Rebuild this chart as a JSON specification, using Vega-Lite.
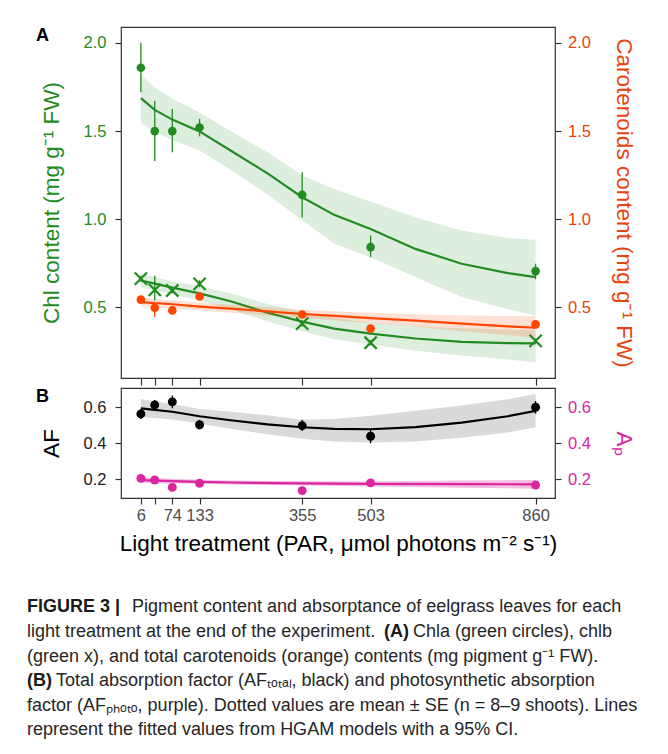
{
  "$schema": "https://vega.github.io/schema/vega-lite/v6.json",
  "background": "white",
  "padding": {"left": 27, "top": 26, "right": 5, "bottom": 5},
  "datasets": {
    "chla_pts": [
      {"x": 6, "y": 1.859, "lo": 1.72, "hi": 2.0},
      {"x": 36, "y": 1.5, "lo": 1.33, "hi": 1.67},
      {"x": 74, "y": 1.5, "lo": 1.38, "hi": 1.625},
      {"x": 133, "y": 1.52, "lo": 1.47, "hi": 1.57},
      {"x": 355, "y": 1.138, "lo": 1.01, "hi": 1.266},
      {"x": 503, "y": 0.842, "lo": 0.785, "hi": 0.908},
      {"x": 860, "y": 0.706, "lo": 0.66, "hi": 0.748}
    ],
    "chla_fit": [
      {"x": 6, "fit": 1.687, "lo": 1.55, "hi": 1.82},
      {"x": 36, "fit": 1.62, "lo": 1.495, "hi": 1.745},
      {"x": 74, "fit": 1.565, "lo": 1.45, "hi": 1.685},
      {"x": 133, "fit": 1.498, "lo": 1.39, "hi": 1.605},
      {"x": 200, "fit": 1.39, "lo": 1.28, "hi": 1.5},
      {"x": 280, "fit": 1.26, "lo": 1.14, "hi": 1.38},
      {"x": 355, "fit": 1.125, "lo": 0.995, "hi": 1.25},
      {"x": 424, "fit": 1.025, "lo": 0.861, "hi": 1.172},
      {"x": 503, "fit": 0.945, "lo": 0.785, "hi": 1.1},
      {"x": 600, "fit": 0.832, "lo": 0.672, "hi": 1.011},
      {"x": 700, "fit": 0.748, "lo": 0.559, "hi": 0.936},
      {"x": 800, "fit": 0.695, "lo": 0.49, "hi": 0.895},
      {"x": 860, "fit": 0.672, "lo": 0.455, "hi": 0.883}
    ],
    "chlb_pts": [
      {"x": 6, "y": 0.663, "lo": 0.645, "hi": 0.68},
      {"x": 36, "y": 0.6, "lo": 0.54, "hi": 0.68},
      {"x": 74, "y": 0.596, "lo": 0.58, "hi": 0.612},
      {"x": 133, "y": 0.634, "lo": 0.615, "hi": 0.655},
      {"x": 355, "y": 0.408, "lo": 0.39, "hi": 0.425},
      {"x": 503, "y": 0.3, "lo": 0.285, "hi": 0.315},
      {"x": 860, "y": 0.31, "lo": 0.295, "hi": 0.325}
    ],
    "chlb_fit": [
      {"x": 6, "fit": 0.653, "lo": 0.615, "hi": 0.695},
      {"x": 36, "fit": 0.635, "lo": 0.598, "hi": 0.672},
      {"x": 74, "fit": 0.612, "lo": 0.575, "hi": 0.648},
      {"x": 133, "fit": 0.58, "lo": 0.54, "hi": 0.62},
      {"x": 200, "fit": 0.535, "lo": 0.49, "hi": 0.58},
      {"x": 280, "fit": 0.47, "lo": 0.42, "hi": 0.52},
      {"x": 355, "fit": 0.42, "lo": 0.365, "hi": 0.475},
      {"x": 424, "fit": 0.38, "lo": 0.32, "hi": 0.44},
      {"x": 503, "fit": 0.352, "lo": 0.29, "hi": 0.415},
      {"x": 600, "fit": 0.324, "lo": 0.255, "hi": 0.393},
      {"x": 700, "fit": 0.305, "lo": 0.228, "hi": 0.382},
      {"x": 800, "fit": 0.298, "lo": 0.205, "hi": 0.375},
      {"x": 860, "fit": 0.296, "lo": 0.19, "hi": 0.37}
    ],
    "carot_pts": [
      {"x": 6, "y": 0.544, "lo": 0.534, "hi": 0.554},
      {"x": 36, "y": 0.498, "lo": 0.446, "hi": 0.53},
      {"x": 74, "y": 0.483, "lo": 0.462, "hi": 0.5},
      {"x": 133, "y": 0.562, "lo": 0.552, "hi": 0.572},
      {"x": 355, "y": 0.46, "lo": 0.44, "hi": 0.48},
      {"x": 503, "y": 0.38, "lo": 0.37, "hi": 0.39},
      {"x": 860, "y": 0.404, "lo": 0.39, "hi": 0.428}
    ],
    "carot_fit": [
      {"x": 6, "fit": 0.53, "lo": 0.505, "hi": 0.555},
      {"x": 74, "fit": 0.518, "lo": 0.495, "hi": 0.541},
      {"x": 133, "fit": 0.505, "lo": 0.483, "hi": 0.527},
      {"x": 200, "fit": 0.493, "lo": 0.47, "hi": 0.516},
      {"x": 280, "fit": 0.478, "lo": 0.455, "hi": 0.502},
      {"x": 355, "fit": 0.463, "lo": 0.44, "hi": 0.487},
      {"x": 424, "fit": 0.452, "lo": 0.427, "hi": 0.478},
      {"x": 503, "fit": 0.44, "lo": 0.412, "hi": 0.47},
      {"x": 600, "fit": 0.425, "lo": 0.39, "hi": 0.462},
      {"x": 700, "fit": 0.408, "lo": 0.365, "hi": 0.455},
      {"x": 800, "fit": 0.393, "lo": 0.343, "hi": 0.452},
      {"x": 860, "fit": 0.385, "lo": 0.33, "hi": 0.452}
    ],
    "af_pts": [
      {"x": 6, "y": 0.563, "lo": 0.535, "hi": 0.59},
      {"x": 36, "y": 0.613, "lo": 0.585, "hi": 0.64},
      {"x": 74, "y": 0.63, "lo": 0.595, "hi": 0.665},
      {"x": 133, "y": 0.503, "lo": 0.478, "hi": 0.53},
      {"x": 355, "y": 0.498, "lo": 0.468, "hi": 0.53},
      {"x": 503, "y": 0.439, "lo": 0.4, "hi": 0.478},
      {"x": 860, "y": 0.6, "lo": 0.565, "hi": 0.635}
    ],
    "af_fit": [
      {"x": 6, "fit": 0.594, "lo": 0.546, "hi": 0.646},
      {"x": 36, "fit": 0.585, "lo": 0.54, "hi": 0.632},
      {"x": 74, "fit": 0.575, "lo": 0.532, "hi": 0.618},
      {"x": 133, "fit": 0.55, "lo": 0.51, "hi": 0.59},
      {"x": 200, "fit": 0.528, "lo": 0.48, "hi": 0.575},
      {"x": 280, "fit": 0.505, "lo": 0.45, "hi": 0.555},
      {"x": 355, "fit": 0.489, "lo": 0.425, "hi": 0.53},
      {"x": 424, "fit": 0.48, "lo": 0.41, "hi": 0.535},
      {"x": 503, "fit": 0.478, "lo": 0.404, "hi": 0.553},
      {"x": 600, "fit": 0.49, "lo": 0.41, "hi": 0.58},
      {"x": 700, "fit": 0.515, "lo": 0.43, "hi": 0.61},
      {"x": 800, "fit": 0.55, "lo": 0.46, "hi": 0.645},
      {"x": 860, "fit": 0.58, "lo": 0.489, "hi": 0.674}
    ],
    "ap_pts": [
      {"x": 6, "y": 0.205, "lo": 0.197, "hi": 0.213},
      {"x": 36, "y": 0.196, "lo": 0.188, "hi": 0.204},
      {"x": 74, "y": 0.155, "lo": 0.147, "hi": 0.163},
      {"x": 133, "y": 0.178, "lo": 0.17, "hi": 0.186},
      {"x": 355, "y": 0.137, "lo": 0.129, "hi": 0.145},
      {"x": 503, "y": 0.18, "lo": 0.172, "hi": 0.188},
      {"x": 860, "y": 0.168, "lo": 0.16, "hi": 0.176}
    ],
    "ap_fit": [
      {"x": 6, "fit": 0.195, "lo": 0.18, "hi": 0.21},
      {"x": 74, "fit": 0.19, "lo": 0.177, "hi": 0.203},
      {"x": 133, "fit": 0.186, "lo": 0.175, "hi": 0.197},
      {"x": 200, "fit": 0.182, "lo": 0.171, "hi": 0.193},
      {"x": 355, "fit": 0.177, "lo": 0.165, "hi": 0.189},
      {"x": 503, "fit": 0.174, "lo": 0.16, "hi": 0.188},
      {"x": 700, "fit": 0.173, "lo": 0.153, "hi": 0.193},
      {"x": 860, "fit": 0.172, "lo": 0.148, "hi": 0.196}
    ],
    "caption": [
      {"line": 1, "part": "bold_start", "text": "FIGURE 3 |"},
      {"line": 1, "part": "after_fig", "text": "Pigment content and absorptance of eelgrass leaves for each"},
      {"line": 2, "part": "start", "text": "light treatment at the end of the experiment."},
      {"line": 2, "part": "bold_A", "text": "(A)"},
      {"line": 2, "part": "after_A", "text": "Chla (green circles), chlb"},
      {"line": 3, "part": "start", "text": "(green x), and total carotenoids (orange) contents (mg pigment g⁻¹ FW)."},
      {"line": 4, "part": "bold_start", "text": "(B)"},
      {"line": 4, "part": "after_B", "text": "Total absorption factor (AFₜₒₜₐₗ, black) and photosynthetic absorption"},
      {"line": 5, "part": "start", "text": "factor (AFₚₕₒₜₒ, purple). Dotted values are mean ± SE (n = 8–9 shoots). Lines"},
      {"line": 6, "part": "start", "text": "represent the fitted values from HGAM models with a 95% CI."}
    ]
  },
  "spacing": 42,
  "vconcat": [
    {
      "spacing": 0,
      "vconcat": [
        {
          "width": 434,
          "height": 351,
          "title": {"text": "A", "anchor": "start", "frame": "bounds", "fontSize": 18, "fontWeight": "bold", "color": "#000000", "dy": 22, "dx": -4},
          "resolve": {"scale": {"y": "independent"}},
          "layer": [
            {
              "layer": [
                {
                  "data": {"name": "chla_fit"},
                  "mark": {"type": "area", "color": "#228B22", "opacity": 0.15},
                  "encoding": {
                    "x": {"field": "x", "type": "quantitative", "scale": {"domain": [-37, 902], "nice": false, "zero": false},
                      "axis": {"values": [6, 36, 74, 133, 355, 503, 860], "labels": false, "title": null, "tickSize": 7}},
                    "y": {"field": "lo", "type": "quantitative", "scale": {"domain": [0.1, 2.09], "nice": false, "zero": false},
                      "axis": {"orient": "left", "values": [0.5, 1, 1.5, 2], "format": ".1f", "title": "Chl content (mg g⁻¹ FW)", "titleColor": "#228B22", "labelColor": "#228B22", "labelPadding": 9, "titlePadding": 20}},
                    "y2": {"field": "hi"}
                  }
                },
                {
                  "data": {"name": "chlb_fit"},
                  "mark": {"type": "area", "color": "#228B22", "opacity": 0.15},
                  "encoding": {
                    "x": {"field": "x", "type": "quantitative"},
                    "y": {"field": "lo", "type": "quantitative"},
                    "y2": {"field": "hi"}
                  }
                },
                {
                  "data": {"name": "chla_fit"},
                  "mark": {"type": "line", "color": "#228B22", "strokeWidth": 2.2},
                  "encoding": {
                    "x": {"field": "x", "type": "quantitative"},
                    "y": {"field": "fit", "type": "quantitative"}
                  }
                },
                {
                  "data": {"name": "chlb_fit"},
                  "mark": {"type": "line", "color": "#228B22", "strokeWidth": 2.2},
                  "encoding": {
                    "x": {"field": "x", "type": "quantitative"},
                    "y": {"field": "fit", "type": "quantitative"}
                  }
                },
                {
                  "data": {"name": "chla_pts"},
                  "mark": {"type": "rule", "color": "#228B22", "strokeWidth": 1.3},
                  "encoding": {
                    "x": {"field": "x", "type": "quantitative"},
                    "y": {"field": "lo", "type": "quantitative"},
                    "y2": {"field": "hi"}
                  }
                },
                {
                  "data": {"name": "chlb_pts"},
                  "mark": {"type": "rule", "color": "#228B22", "strokeWidth": 1.3},
                  "encoding": {
                    "x": {"field": "x", "type": "quantitative"},
                    "y": {"field": "lo", "type": "quantitative"},
                    "y2": {"field": "hi"}
                  }
                },
                {
                  "data": {"name": "chla_pts"},
                  "mark": {"type": "point", "shape": "circle", "filled": true, "color": "#228B22", "size": 75, "opacity": 1},
                  "encoding": {
                    "x": {"field": "x", "type": "quantitative"},
                    "y": {"field": "y", "type": "quantitative"}
                  }
                },
                {
                  "data": {"name": "chlb_pts"},
                  "mark": {"type": "point", "shape": "M-1,-1L1,1M-1,1L1,-1", "filled": false, "color": "#228B22", "size": 150, "strokeWidth": 2.2, "opacity": 1},
                  "encoding": {
                    "x": {"field": "x", "type": "quantitative"},
                    "y": {"field": "y", "type": "quantitative"}
                  }
                }
              ]
            },
            {
              "layer": [
                {
                  "data": {"name": "carot_fit"},
                  "mark": {"type": "area", "color": "#FF4500", "opacity": 0.17},
                  "encoding": {
                    "x": {"field": "x", "type": "quantitative"},
                    "y": {"field": "lo", "type": "quantitative", "scale": {"domain": [0.1, 2.09], "nice": false, "zero": false},
                      "axis": {"orient": "right", "values": [0.5, 1, 1.5, 2], "format": ".1f", "title": "Carotenoids content (mg g⁻¹ FW)", "titleColor": "#E8430F", "labelColor": "#E8430F", "labelPadding": 6.5, "titlePadding": 21.5}},
                    "y2": {"field": "hi"}
                  }
                },
                {
                  "data": {"name": "carot_fit"},
                  "mark": {"type": "line", "color": "#FF4500", "strokeWidth": 2.2},
                  "encoding": {
                    "x": {"field": "x", "type": "quantitative"},
                    "y": {"field": "fit", "type": "quantitative"}
                  }
                },
                {
                  "data": {"name": "carot_pts"},
                  "mark": {"type": "rule", "color": "#FF4500", "strokeWidth": 1.3},
                  "encoding": {
                    "x": {"field": "x", "type": "quantitative"},
                    "y": {"field": "lo", "type": "quantitative"},
                    "y2": {"field": "hi"}
                  }
                },
                {
                  "data": {"name": "carot_pts"},
                  "mark": {"type": "point", "shape": "circle", "filled": true, "color": "#FF4500", "size": 75, "opacity": 1},
                  "encoding": {
                    "x": {"field": "x", "type": "quantitative"},
                    "y": {"field": "y", "type": "quantitative"}
                  }
                }
              ]
            }
          ]
        },
        {
          "width": 434,
          "height": 110,
          "title": {"text": "B", "anchor": "start", "frame": "bounds", "fontSize": 18, "fontWeight": "bold", "color": "#000000", "dy": 22, "dx": -4},
          "resolve": {"scale": {"y": "independent"}},
          "layer": [
            {
              "layer": [
                {
                  "data": {"name": "af_fit"},
                  "mark": {"type": "area", "color": "#b5b5b5", "opacity": 0.5},
                  "encoding": {
                    "x": {"field": "x", "type": "quantitative", "scale": {"domain": [-37, 902], "nice": false, "zero": false},
                      "axis": {"values": [6, 36, 74, 133, 355, 503, 860], "labelExpr": "datum.value == 36 ? '' : datum.label", "labelOverlap": false, "labelFlush": false, "labelColor": "#4d4d4d", "labelPadding": 3, "title": "Light treatment (PAR, μmol photons m⁻² s⁻¹)", "titleColor": "#000000", "titlePadding": 9}},
                    "y": {"field": "lo", "type": "quantitative", "scale": {"domain": [0.096, 0.707], "nice": false, "zero": false},
                      "axis": {"orient": "left", "values": [0.2, 0.4, 0.6], "format": ".1f", "title": "AF", "titleColor": "#000000", "labelColor": "#222222", "labelPadding": 9, "titlePadding": 20}},
                    "y2": {"field": "hi"}
                  }
                },
                {
                  "data": {"name": "af_fit"},
                  "mark": {"type": "line", "color": "#000000", "strokeWidth": 2.2},
                  "encoding": {
                    "x": {"field": "x", "type": "quantitative"},
                    "y": {"field": "fit", "type": "quantitative"}
                  }
                },
                {
                  "data": {"name": "af_pts"},
                  "mark": {"type": "rule", "color": "#000000", "strokeWidth": 1.3},
                  "encoding": {
                    "x": {"field": "x", "type": "quantitative"},
                    "y": {"field": "lo", "type": "quantitative"},
                    "y2": {"field": "hi"}
                  }
                },
                {
                  "data": {"name": "af_pts"},
                  "mark": {"type": "point", "shape": "circle", "filled": true, "color": "#000000", "size": 80, "opacity": 1},
                  "encoding": {
                    "x": {"field": "x", "type": "quantitative"},
                    "y": {"field": "y", "type": "quantitative"}
                  }
                }
              ]
            },
            {
              "layer": [
                {
                  "data": {"name": "ap_fit"},
                  "mark": {"type": "area", "color": "#D9259E", "opacity": 0.3},
                  "encoding": {
                    "x": {"field": "x", "type": "quantitative"},
                    "y": {"field": "lo", "type": "quantitative", "scale": {"domain": [0.096, 0.707], "nice": false, "zero": false},
                      "axis": {"orient": "right", "values": [0.2, 0.4, 0.6], "format": ".1f", "title": "Aₚ", "titleColor": "#D9259E", "labelColor": "#D9259E", "labelPadding": 6.5, "titlePadding": 21.5}},
                    "y2": {"field": "hi"}
                  }
                },
                {
                  "data": {"name": "ap_fit"},
                  "mark": {"type": "line", "color": "#D9259E", "strokeWidth": 2.2},
                  "encoding": {
                    "x": {"field": "x", "type": "quantitative"},
                    "y": {"field": "fit", "type": "quantitative"}
                  }
                },
                {
                  "data": {"name": "ap_pts"},
                  "mark": {"type": "rule", "color": "#D9259E", "strokeWidth": 1.3},
                  "encoding": {
                    "x": {"field": "x", "type": "quantitative"},
                    "y": {"field": "lo", "type": "quantitative"},
                    "y2": {"field": "hi"}
                  }
                },
                {
                  "data": {"name": "ap_pts"},
                  "mark": {"type": "point", "shape": "circle", "filled": true, "color": "#D9259E", "size": 80, "opacity": 1},
                  "encoding": {
                    "x": {"field": "x", "type": "quantitative"},
                    "y": {"field": "y", "type": "quantitative"}
                  }
                }
              ]
            }
          ]
        }
      ]
    },
    {
      "width": 434,
      "height": 147.6,
      "view": {"stroke": null},
      "data": {"name": "caption"},
      "encoding": {
        "x": {"datum": 0, "type": "quantitative", "scale": {"domain": [0, 1]}, "axis": null},
        "y": {"field": "line", "type": "quantitative", "scale": {"domain": [0.5, 6.5], "reverse": true, "nice": false, "zero": false}, "axis": null},
        "text": {"field": "text"}
      },
      "layer": [
        {"transform": [{"filter": "datum.part == 'start'"}], "mark": {"type": "text", "align": "left", "baseline": "alphabetic", "fontSize": 18, "color": "#262626", "dx": -94}},
        {"transform": [{"filter": "datum.part == 'bold_start'"}], "mark": {"type": "text", "align": "left", "baseline": "alphabetic", "fontSize": 18, "fontWeight": "bold", "color": "#1a1a1a", "dx": -94}},
        {"transform": [{"filter": "datum.part == 'after_fig'"}], "mark": {"type": "text", "align": "left", "baseline": "alphabetic", "fontSize": 18, "color": "#262626", "dx": 11}},
        {"transform": [{"filter": "datum.part == 'bold_A'"}], "mark": {"type": "text", "align": "left", "baseline": "alphabetic", "fontSize": 18, "fontWeight": "bold", "color": "#1a1a1a", "dx": 263}},
        {"transform": [{"filter": "datum.part == 'after_A'"}], "mark": {"type": "text", "align": "left", "baseline": "alphabetic", "fontSize": 18, "color": "#262626", "dx": 292}},
        {"transform": [{"filter": "datum.part == 'after_B'"}], "mark": {"type": "text", "align": "left", "baseline": "alphabetic", "fontSize": 18, "color": "#262626", "dx": -65}}
      ]
    }
  ],
  "config": {
    "font": "Liberation Sans",
    "view": {"stroke": "#333333", "strokeWidth": 1.2},
    "axis": {"grid": false, "domain": false, "tickColor": "#333333", "tickWidth": 1.2, "tickSize": 6, "labelFont": "Liberation Sans", "labelFontSize": 16.5, "titleFont": "Liberation Sans", "titleFontSize": 22.5, "titleFontWeight": "normal"},
    "title": {"font": "Liberation Sans"}
  }
}
